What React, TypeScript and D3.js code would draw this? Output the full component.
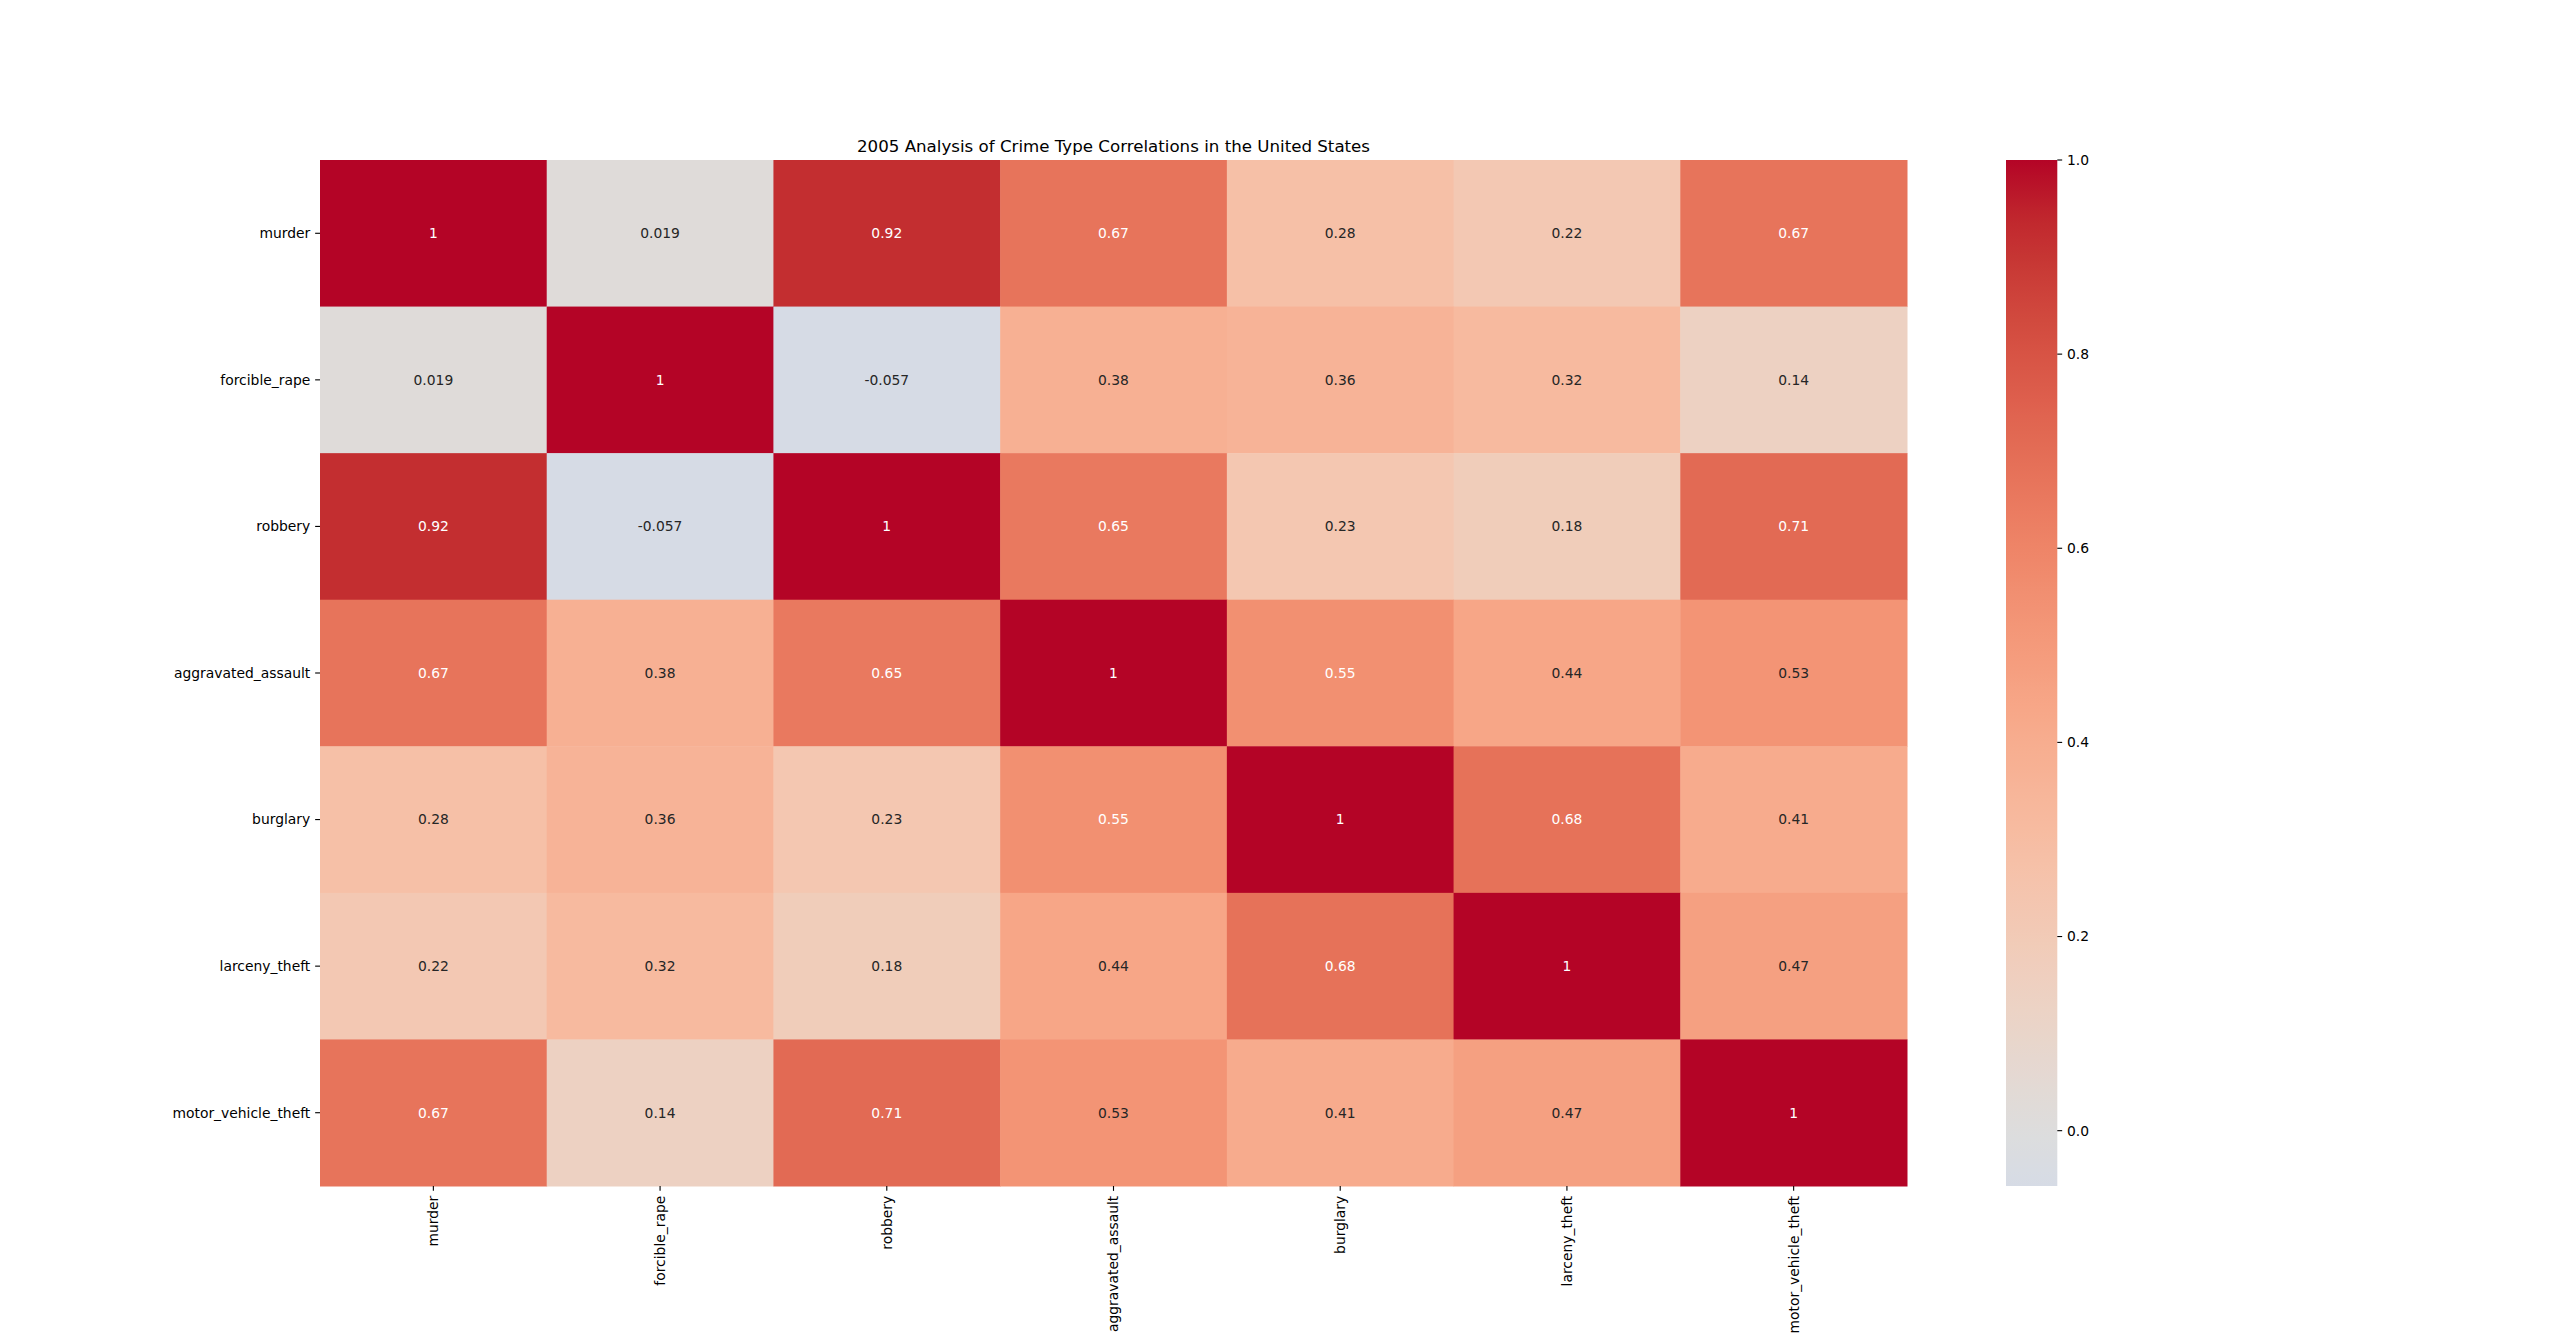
import React, { useEffect, useRef } from "react";
import * as d3 from "d3";

const crimes = [
  "murder",
  "forcible_rape",
  "robbery",
  "aggravated_assault",
  "burglary",
  "larceny_theft",
  "motor_vehicle_theft",
];

// correlation matrix, rows in the same order as crimes
const corr: number[][] = [
  [1, 0.019, 0.92, 0.67, 0.28, 0.22, 0.67],
  [0.019, 1, -0.057, 0.38, 0.36, 0.32, 0.14],
  [0.92, -0.057, 1, 0.65, 0.23, 0.18, 0.71],
  [0.67, 0.38, 0.65, 1, 0.55, 0.44, 0.53],
  [0.28, 0.36, 0.23, 0.55, 1, 0.68, 0.41],
  [0.22, 0.32, 0.18, 0.44, 0.68, 1, 0.47],
  [0.67, 0.14, 0.71, 0.53, 0.41, 0.47, 1],
];

const colorbarTicks = [0, 0.2, 0.4, 0.6, 0.8, 1.0];

const title = "2005 Analysis of Crime Type Correlations in the United States";

// upper part of matplotlib's coolwarm (position, r, g, b)
const coolwarmStops: [number, number, number, number][] = [
  [0.40625, 0.761464949, 0.834302879, 0.956945269],
  [0.4375, 0.798691636, 0.849786142, 0.931688648],
  [0.46875, 0.833466556, 0.860207984, 0.901068838],
  [0.5, 0.865395197, 0.86541021, 0.865395561],
  [0.53125, 0.897787179, 0.848937047, 0.820880546],
  [0.5625, 0.924127593, 0.827384882, 0.774508472],
  [0.59375, 0.944468518, 0.800927443, 0.726736146],
  [0.625, 0.958852946, 0.769767752, 0.678007945],
  [0.65625, 0.96732803, 0.734132809, 0.628751763],
  [0.6875, 0.969954137, 0.694266682, 0.579375448],
  [0.71875, 0.966811177, 0.650421156, 0.530263762],
  [0.75, 0.958003065, 0.602842431, 0.481775914],
  [0.78125, 0.943660866, 0.551750968, 0.434243684],
  [0.8125, 0.923944917, 0.49730856, 0.387970225],
  [0.84375, 0.89904617, 0.439559467, 0.343229596],
  [0.875, 0.869186849, 0.378313092, 0.300267182],
  [0.90625, 0.834620542, 0.312874446, 0.259301199],
  [0.9375, 0.795631745, 0.24128379, 0.221502179],
  [0.96875, 0.752534934, 0.157246067, 0.177159057],
  [1.0, 0.705673158, 0.01555616, 0.150232812],
];

const W = 2560;
const H = 1333;
const DPI = 100 / 72;

const App = () => {
  const svgRef = useRef<SVGSVGElement | null>(null);

  useEffect(() => {
    document.body.style.margin = "0";
    if (!svgRef.current) return;
    const svg = d3.select(svgRef.current);
    svg.selectAll("*").remove();

    const font = "DejaVu Sans, sans-serif";
    const tickFont = 10 * DPI;
    const tickLen = 3.5 * DPI;
    const pad = 3.5 * DPI;

    const left = 320;
    const right = 1907;
    const top = 160;
    const bottom = 1186;

    const vmin = d3.min(corr.flat()) as number;
    const vmax = d3.max(corr.flat()) as number;

    const cw = d3
      .scaleLinear<string>()
      .domain(coolwarmStops.map((s) => s[0]))
      .range(coolwarmStops.map((s) => d3.rgb(s[1] * 255, s[2] * 255, s[3] * 255).toString()))
      .interpolate(d3.interpolateRgb)
      .clamp(true);
    // centered at 0, symmetric range [-1, 1]
    const color = (v: number) => cw((v + 1) / 2);

    const lum = (c: string) => {
      const rgb = d3.rgb(c);
      const lin = (x: number) => {
        const s = x / 255;
        return s <= 0.03928 ? s / 12.92 : Math.pow((s + 0.055) / 1.055, 2.4);
      };
      return 0.2126 * lin(rgb.r) + 0.7152 * lin(rgb.g) + 0.0722 * lin(rgb.b);
    };

    // python-style ".2g" with a plain hyphen for negatives
    const fmt = (v: number) => d3.format(".2~g")(v).replace("\u2212", "-");

    const x = d3.scaleBand<string>().domain(crimes).range([left, right]);
    const y = d3.scaleBand<string>().domain(crimes).range([top, bottom]);

    const cells = corr.flatMap((row, i) =>
      row.map((v, j) => ({ r: crimes[i], c: crimes[j], v }))
    );

    const g = svg.append("g");
    g.selectAll("rect.cell")
      .data(cells)
      .enter()
      .append("rect")
      .attr("class", "cell")
      .attr("x", (d) => x(d.c)!)
      .attr("y", (d) => y(d.r)!)
      .attr("width", x.bandwidth() + 0.5)
      .attr("height", y.bandwidth() + 0.5)
      .attr("fill", (d) => color(d.v));

    g.selectAll("text.annot")
      .data(cells)
      .enter()
      .append("text")
      .attr("x", (d) => x(d.c)! + x.bandwidth() / 2)
      .attr("y", (d) => y(d.r)! + y.bandwidth() / 2)
      .attr("dy", "0.35em")
      .attr("text-anchor", "middle")
      .style("font-family", font)
      .style("font-size", `${tickFont}px`)
      .style("fill", (d) => (lum(color(d.v)) > 0.408 ? "#262626" : "#ffffff"))
      .text((d) => fmt(d.v));

    // y axis ticks + labels
    crimes.forEach((c) => {
      const cy = y(c)! + y.bandwidth() / 2;
      g.append("line")
        .attr("x1", left - tickLen)
        .attr("x2", left)
        .attr("y1", cy)
        .attr("y2", cy)
        .attr("stroke", "#000")
        .attr("stroke-width", 0.8 * DPI);
      g.append("text")
        .attr("x", left - tickLen - pad)
        .attr("y", cy)
        .attr("dy", "0.35em")
        .attr("text-anchor", "end")
        .style("font-family", font)
        .style("font-size", `${tickFont}px`)
        .text(c);
    });

    // x axis ticks + rotated labels
    crimes.forEach((c) => {
      const cx = x(c)! + x.bandwidth() / 2;
      g.append("line")
        .attr("x1", cx)
        .attr("x2", cx)
        .attr("y1", bottom)
        .attr("y2", bottom + tickLen)
        .attr("stroke", "#000")
        .attr("stroke-width", 0.8 * DPI);
      g.append("text")
        .attr("transform", `translate(${cx},${bottom + tickLen + pad}) rotate(-90)`)
        .attr("dy", "0.35em")
        .attr("text-anchor", "end")
        .style("font-family", font)
        .style("font-size", `${tickFont}px`)
        .text(c);
    });

    // title
    svg
      .append("text")
      .attr("x", (left + right) / 2)
      .attr("y", top - 6 * DPI)
      .attr("text-anchor", "middle")
      .style("font-family", font)
      .style("font-size", `${12 * DPI}px`)
      .text(title);

    // colorbar
    const cbLeft = 2006;
    const cbWidth = (bottom - top) / 20;
    const cy = d3.scaleLinear().domain([vmin, vmax]).range([bottom, top]);

    const defs = svg.append("defs");
    const grad = defs
      .append("linearGradient")
      .attr("id", "cbgrad")
      .attr("x1", 0)
      .attr("x2", 0)
      .attr("y1", 1)
      .attr("y2", 0);
    d3.range(0, 1.0001, 1 / 64).forEach((t) => {
      grad
        .append("stop")
        .attr("offset", t)
        .attr("stop-color", color(vmin + t * (vmax - vmin)));
    });
    svg
      .append("rect")
      .attr("x", cbLeft)
      .attr("y", top)
      .attr("width", cbWidth)
      .attr("height", bottom - top)
      .attr("fill", "url(#cbgrad)");

    const cbAxis = svg.append("g");
    colorbarTicks.forEach((t) => {
      const ty = cy(t);
      cbAxis
        .append("line")
        .attr("x1", cbLeft + cbWidth)
        .attr("x2", cbLeft + cbWidth + tickLen)
        .attr("y1", ty)
        .attr("y2", ty)
        .attr("stroke", "#000")
        .attr("stroke-width", 0.8 * DPI);
      cbAxis
        .append("text")
        .attr("x", cbLeft + cbWidth + tickLen + pad)
        .attr("y", ty)
        .attr("dy", "0.35em")
        .style("font-family", font)
        .style("font-size", `${tickFont}px`)
        .text(d3.format(".1f")(t));
    });
  }, []);

  return (
    <div style={{ position: "absolute", left: 0, top: 0, width: W, height: H, overflow: "hidden" }}>
      <svg ref={svgRef} width={W} height={H} style={{ display: "block", background: "#fff" }} />
    </div>
  );
};

export default App;
